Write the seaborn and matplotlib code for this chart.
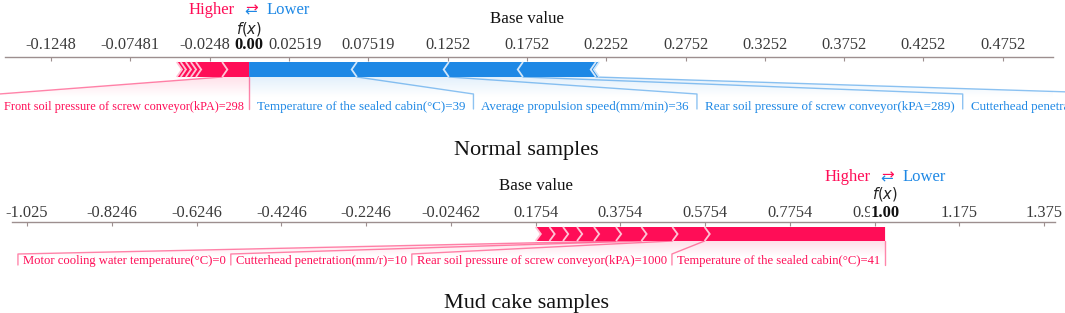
import numpy as np
import matplotlib
matplotlib.use("Agg")
import matplotlib.pyplot as plt
import matplotlib.transforms as mtransforms
from matplotlib.path import Path
from matplotlib.patches import Polygon, PathPatch
from matplotlib.colors import LinearSegmentedColormap
import seaborn as sns

sns.set_theme(style="white")
plt.rcParams["font.family"] = ["Liberation Serif", "DejaVu Sans"]
plt.rcParams["mathtext.fontset"] = "dejavusans"

RED, RED_SEP = "#FF0D57", "#FFC3D5"
BLUE, BLUE_SEP = "#1E88E5", "#D1E6FA"
AXIS_COLOR = "#9d8f8f"

# ---------------- data: normal sample ----------------
normal_base_value = 0.1752
normal_fx = 0.00
normal_pos_effects = [0.017, 0.0165, 0.0032, 0.0032, 0.0032, 0.0025]
normal_pos_labels = ["Front soil pressure of screw conveyor(kPA)=298"]
normal_neg_effects = [0.068, 0.058, 0.0467, 0.046, 0.002]
normal_neg_labels = [
    "Temperature of the sealed cabin(\u00b0C)=39",
    "Average propulsion speed(mm/min)=36",
    "Rear soil pressure of screw conveyor(kPA=289)",
    "Cutterhead penetration(mm/r)",
]
normal_ticks = ["-0.1248", "-0.07481", "-0.0248", "0.02519", "0.07519", "0.1252",
                "0.1752", "0.2252", "0.2752", "0.3252", "0.3752", "0.4252", "0.4752"]

# ---------------- data: mud cake sample ----------------
mud_base_value = 0.1754
mud_fx = 1.00
mud_pos_effects = [0.426, 0.076, 0.073, 0.060, 0.052, 0.040, 0.033, 0.032, 0.0326]
mud_pos_labels = [
    "Temperature of the sealed cabin(\u00b0C)=41",
    "Rear soil pressure of screw conveyor(kPA)=1000",
    "Cutterhead penetration(mm/r)=10",
    "Motor cooling water temperature(\u00b0C)=0",
]
mud_ticks = ["-1.025", "-0.8246", "-0.6246", "-0.4246", "-0.2246", "-0.02462", "0.1754",
             "0.3754", "0.5754", "0.7754", "0.9754", "1.175", "1.375"]

W, H = 1065, 313
fig = plt.figure(figsize=(W / 100, H / 100), dpi=100)
renderer = fig.canvas.get_renderer()


def make_axes(x0, x1, ytop, ybot, xlim, ticks, pad, nudge=None):
    # one y unit = one pixel, 0 is the axis line
    ax = fig.add_axes([x0 / W, 1 - ybot / H, (x1 - x0) / W, (ybot - ytop) / H])
    ax.set_xlim(*xlim)
    ax.set_ylim(-(ybot - ytop), 0)
    sns.despine(ax=ax, top=False, bottom=True, left=True, right=True)
    ax.spines["top"].set_color(AXIS_COLOR)
    ax.spines["top"].set_linewidth(1.0)
    ax.set_yticks([])
    ax.xaxis.set_ticks_position("top")
    ax.set_xticks([float(t) for t in ticks], ticks)
    ax.tick_params(axis="x", direction="in", length=3, width=0.8, color=AXIS_COLOR,
                   labelsize=11.8, labelcolor="#3a3a3a", pad=pad,
                   top=True, bottom=False, labeltop=True, labelbottom=False)
    ax.set_facecolor("none")
    # labels next to f(x) are pushed sideways a little, as in the original
    if nudge:
        for tick in ax.xaxis.get_major_ticks():
            txt = tick.label2.get_text()
            if txt in nudge:
                shift = mtransforms.ScaledTranslation(nudge[txt] / 100, 0, fig.dpi_scale_trans)
                tick.label2.set_transform(tick.label2.get_transform() + shift)
    return ax


def px(ax):
    # data units per pixel along x
    return (ax.get_xlim()[1] - ax.get_xlim()[0]) / (ax.get_position().width * W)


def draw_bars(ax, fx, effects, sign, y0, y1):
    color, sep = (RED, RED_SEP) if sign > 0 else (BLUE, BLUE_SEP)
    bounds = fx - sign * np.concatenate([[0.0], np.cumsum(effects)])
    indent = (ax.get_xlim()[1] - ax.get_xlim()[0]) / 200
    d = sign * indent
    ym = (y0 + y1) / 2
    for i in range(len(effects)):
        near, far = bounds[i], bounds[i + 1]
        if i == 0:
            pts = [[far, y0], [near, y0], [near, y1], [far, y1], [far + d, ym]]
        else:
            pts = [[far, y0], [near, y0], [near + 0.9 * d, ym], [near, y1],
                   [far, y1], [far + 0.9 * d, ym]]
        ax.add_patch(Polygon(pts, closed=True, facecolor=color, lw=0, zorder=3))
        ax.add_patch(Polygon([[far, y0], [far + d, ym], [far, y1]], closed=False,
                             fill=False, edgecolor=sep, lw=1.3, zorder=4))
    return bounds


def draw_labels(ax, fx, bounds, labels, sign, yb, ymid, ylow, ytext, size, gap):
    color = RED if sign > 0 else BLUE
    dx = px(ax)
    inv = ax.transData.inverted()
    line_kw = dict(color=color, lw=1.0, alpha=0.5, clip_on=False, zorder=2)
    start = box_end = fx
    if sign > 0:
        ax.plot([fx, fx], [yb, ylow], **line_kw)
    for i, lab in enumerate(labels):
        val = bounds[i + 1]
        t = ax.text(start - sign * gap * dx, ytext, lab, color=color, fontsize=size,
                    ha="right" if sign > 0 else "left", va="baseline", clip_on=False)
        bb = t.get_window_extent(renderer).transformed(inv)
        edge = bb.x0 if sign > 0 else bb.x1
        if sign * edge > sign * val:
            ax.plot([val, val], [yb, ylow], **line_kw)
            start = box_end = val
        else:
            box_end = edge - sign * gap * dx
            ax.plot([val, box_end, box_end], [yb, ymid, ylow], **line_kw)
            start = box_end

    # faint shading under the labelled part of the bar
    pre = bounds[len(labels)]
    ybot = ylow - 4
    path = Path([[fx, yb], [pre, yb], [box_end, ymid], [box_end, ybot], [fx, ybot], [fx, yb]])
    patch = PathPatch(path, facecolor="none", edgecolor="none")
    ax.add_patch(patch)
    cmap = LinearSegmentedColormap.from_list("fade", [color, "white"])
    grad = np.clip(np.linspace(0, 1.8, 60), 0, 1)[:, None] * np.ones((1, 4))
    im = ax.imshow(grad, cmap=cmap, vmin=0, vmax=1, alpha=0.13, origin="upper",
                   extent=[min(fx, box_end), max(fx, box_end), ybot, yb],
                   aspect="auto", interpolation="bilinear", zorder=1)
    im.set_clip_path(patch)


def draw_header(ax, fx, base, y_hl, y_base, y_fx, y_out, out_text):
    dx = px(ax)
    ax.text(fx - 14 * dx, y_hl, "Higher", color=RED, fontsize=12, ha="right", va="baseline")
    ax.text(fx + 17 * dx, y_hl, "Lower", color=BLUE, fontsize=12, ha="left", va="baseline")
    ax.text(fx + 2 * dx, y_hl + 6.5, "\u2192", color=RED, fontsize=11, family="DejaVu Sans",
            ha="center", va="center")
    ax.text(fx + 2 * dx, y_hl + 2.5, "\u2190", color=BLUE, fontsize=11, family="DejaVu Sans",
            ha="center", va="center")
    ax.text(base, y_base, "Base value", color="#111111", fontsize=12.2, ha="center", va="baseline")
    ax.text(fx, y_fx, "$f(x)$", color="#222222", fontsize=10.5, ha="center", va="center")
    ax.text(fx, y_out, out_text, color="#111111", fontsize=12, fontweight="bold",
            ha="center", va="baseline", zorder=5,
            bbox=dict(facecolor="white", edgecolor="none", pad=0.3))


# ---------------- top panel: normal samples ----------------
ax1 = make_axes(5, 1053, 57, 130, (-0.1539, 0.5069), normal_ticks, pad=3.2,
                nudge={"-0.0248": -5, "0.02519": 6})
b_pos = draw_bars(ax1, normal_fx, normal_pos_effects, +1, -20, -5)
b_neg = draw_bars(ax1, normal_fx, normal_neg_effects, -1, -20, -5)
draw_labels(ax1, normal_fx, b_pos, normal_pos_labels, +1, -20, -37, -52, -53, 8.8, 5)
draw_labels(ax1, normal_fx, b_neg, normal_neg_labels, -1, -20, -37, -52, -53, 9.4, 8)
draw_header(ax1, normal_fx, normal_base_value, 43, 34, 28, 8, "%.2f" % normal_fx)

# ---------------- bottom panel: mud cake samples ----------------
ax2 = make_axes(12, 1055, 222, 275, (-1.0603, 1.4010), mud_ticks, pad=1.0)
b_mud = draw_bars(ax2, mud_fx, mud_pos_effects, +1, -19, -5)
draw_labels(ax2, mud_fx, b_mud, mud_pos_labels, +1, -19, -32, -43, -42, 9.1, 5)
draw_header(ax2, mud_fx, mud_base_value, 41, 32, 28, 5, "%.2f" % mud_fx)

fig.text(526.5 / W, 1 - 155 / H, "Normal samples", fontsize=16, color="#111111",
         ha="center", va="baseline")
fig.text(526.5 / W, 1 - 308 / H, "Mud cake samples", fontsize=16, color="#111111",
         ha="center", va="baseline")

fig.savefig("out.png", dpi=100, facecolor="white")
